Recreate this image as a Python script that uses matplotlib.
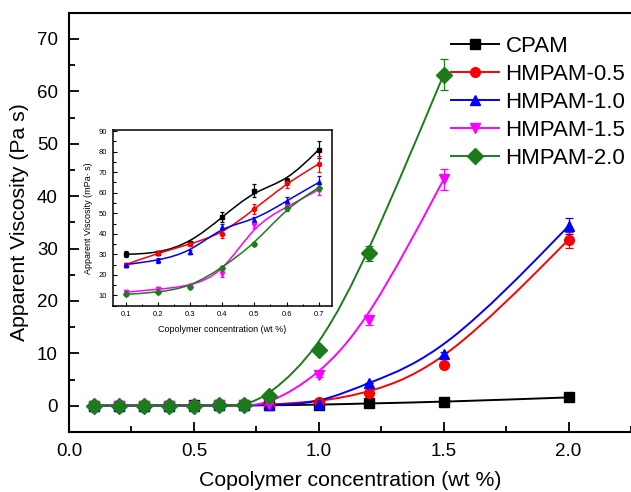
import numpy as np
import matplotlib
matplotlib.use("Agg")
import matplotlib.pyplot as plt
from matplotlib.path import Path
from matplotlib.patches import PathPatch
from matplotlib.lines import Line2D
from matplotlib.ticker import MultipleLocator

plt.rcParams['font.family'] = ['Liberation Sans', 'DejaVu Sans']

# main plot data (Pa s)
conc = [0.1, 0.2, 0.3, 0.4, 0.5, 0.6, 0.7, 0.8, 1.0, 1.2, 1.5, 2.0]
cpam = [0.030, 0.031, 0.036, 0.048, 0.061, 0.066, 0.081, 0.1, 0.2, 0.45, 0.75, 1.6]
hm05 = [0.025, 0.031, 0.035, 0.040, 0.052, 0.065, 0.074, 0.2, 0.8, 2.4, 7.7, 31.7]
hm10 = [0.025, 0.027, 0.031, 0.044, 0.047, 0.056, 0.065, 0.15, 0.4, 4.4, 9.8, 34.3]
hm15 = [0.012, 0.013, 0.015, 0.021, 0.045, 0.053, 0.062, 0.25, 5.8, 16.3, 43.2, None]
hm20 = [0.011, 0.012, 0.014, 0.024, 0.035, 0.053, 0.063, 1.9, 10.7, 29.1, 63.2, None]
err_main = {
    'CPAM': [0, 0, 0, 0, 0, 0, 0, 0, 0, 0, 0, 0.2],
    'HMPAM-0.5': [0, 0, 0, 0, 0, 0, 0, 0, 0, 0, 0.3, 1.5],
    'HMPAM-1.0': [0, 0, 0, 0, 0, 0, 0, 0, 0, 0, 0.4, 1.6],
    'HMPAM-1.5': [0, 0, 0, 0, 0, 0, 0, 0, 0.3, 0.8, 2.0, 0],
    'HMPAM-2.0': [0, 0, 0, 0, 0, 0, 0, 0, 0.2, 1.4, 3.0, 0],
}

# inset data (mPa s)
conc_in = [0.1, 0.2, 0.3, 0.4, 0.5, 0.6, 0.7]
cpam_in = [30, 30.5, 35.5, 48, 61, 65.5, 81]
hm05_in = [25, 30.5, 35, 40, 52, 64.5, 74]
hm10_in = [25, 27, 31, 43.5, 46.5, 56, 65]
hm15_in = [11.5, 13, 14.5, 20.5, 44.5, 53, 61.5]
hm20_in = [10.5, 11.5, 14, 23.5, 35, 52.5, 62.5]
err_in = {
    'CPAM': [1.5, 1, 1, 2.5, 3, 1.5, 4],
    'HMPAM-0.5': [1, 1, 1, 2, 2.5, 2, 4],
    'HMPAM-1.0': [1, 1, 1, 1.5, 1.5, 2, 3],
    'HMPAM-1.5': [1, 1, 1, 1.5, 1.5, 1.5, 2.5],
    'HMPAM-2.0': [1, 1, 1, 1, 1, 1.5, 1.5],
}

names = ['CPAM', 'HMPAM-0.5', 'HMPAM-1.0', 'HMPAM-1.5', 'HMPAM-2.0']
colors = ['black', '#ff0000', '#0000ff', '#ff00ff', '#1c7c1c']
markers = ['s', 'o', '^', 'v', 'D']


def bspline_path(x, y):
    # clamped cubic B-spline with the data points as control points
    # (Origin-style "B-Spline" connect), written as bezier segments
    p = np.column_stack([x, y]).astype(float)
    p = np.vstack([p[:1], p[:1], p, p[-1:], p[-1:]])
    verts = []
    codes = []
    for i in range(len(p) - 3):
        a, b, c, d = p[i], p[i + 1], p[i + 2], p[i + 3]
        b0 = (a + 4 * b + c) / 6
        b1 = (2 * b + c) / 3
        b2 = (b + 2 * c) / 3
        b3 = (b + 4 * c + d) / 6
        if i == 0:
            verts.append(tuple(b0))
            codes.append(Path.MOVETO)
        verts += [tuple(b1), tuple(b2), tuple(b3)]
        codes += [Path.CURVE4] * 3
    return Path(verts, codes)


def draw(ax, x, y, err, color, marker, ms, lw, cap):
    pts = [(a, b, e) for a, b, e in zip(x, y, err) if b is not None]
    xs = [p[0] for p in pts]
    ys = [p[1] for p in pts]
    es = [p[2] for p in pts]
    ax.add_patch(PathPatch(bspline_path(xs, ys), fill=False, edgecolor=color,
                           lw=lw, transform=ax.transData))
    ax.errorbar(xs, ys, yerr=es, fmt=marker, color=color, ms=ms,
                capsize=cap, elinewidth=0.9, capthick=0.9)


fig = plt.figure(figsize=(6.31, 4.92), dpi=100)
ax = fig.add_axes([0.1094, 0.122, 0.8906, 0.852])

series = [cpam, hm05, hm10, hm15, hm20]
for name, ys, c, mk in zip(names, series, colors, markers):
    draw(ax, conc, ys, err_main[name], c, mk, 8 if mk == 'D' else 7, 1.4, 3)

ax.set_xlim(0, 2.25)
ax.set_ylim(-5, 75)
ax.xaxis.set_major_locator(MultipleLocator(0.5))
ax.xaxis.set_minor_locator(MultipleLocator(0.25))
ax.yaxis.set_major_locator(MultipleLocator(10))
ax.yaxis.set_minor_locator(MultipleLocator(5))
ax.tick_params(which='both', direction='in', labelsize=13.5, width=1.3)
ax.tick_params(which='major', length=7, pad=8)
ax.tick_params(which='minor', length=4)
ax.spines['right'].set_visible(False)
for s in ['left', 'top', 'bottom']:
    ax.spines[s].set_linewidth(1.5)
ax.set_xlabel('Copolymer concentration (wt %)', fontsize=15.3, labelpad=8)
ax.set_ylabel('Apparent Viscosity (Pa s)', fontsize=15.3, labelpad=6)

handles = [Line2D([], [], color=c, marker=mk, ms=8 if mk == 'D' else 7, lw=1.4)
           for c, mk in zip(colors, markers)]
fig.legend(handles, names, loc='upper left', bbox_to_anchor=(0.683, 0.967),
           frameon=False, fontsize=16, handlelength=2.15, handletextpad=0.3,
           labelspacing=0.31)

# inset
axi = fig.add_axes([0.1786, 0.3787, 0.347, 0.357])
series_in = [cpam_in, hm05_in, hm10_in, hm15_in, hm20_in]
for name, ys, c, mk in zip(names, series_in, colors, markers):
    draw(axi, conc_in, ys, err_in[name], c, mk, 3, 1.1, 1.5)
axi.set_xlim(0.06, 0.74)
axi.set_ylim(5, 90.5)
axi.xaxis.set_major_locator(MultipleLocator(0.1))
axi.xaxis.set_minor_locator(MultipleLocator(0.05))
axi.yaxis.set_major_locator(MultipleLocator(10))
axi.yaxis.set_minor_locator(MultipleLocator(5))
axi.tick_params(which='both', direction='in', labelsize=5.5, width=0.8)
axi.tick_params(which='major', length=3, pad=4)
axi.tick_params(which='minor', length=1.8)
for s in axi.spines.values():
    s.set_linewidth(1.1)
axi.set_xlabel('Copolymer concentration (wt %)', fontsize=6.5, labelpad=5)
axi.set_ylabel('Apparent Viscosity (mPa\u00b7 s)', fontsize=6.5, labelpad=4)

fig.savefig('out.png', dpi=100)
